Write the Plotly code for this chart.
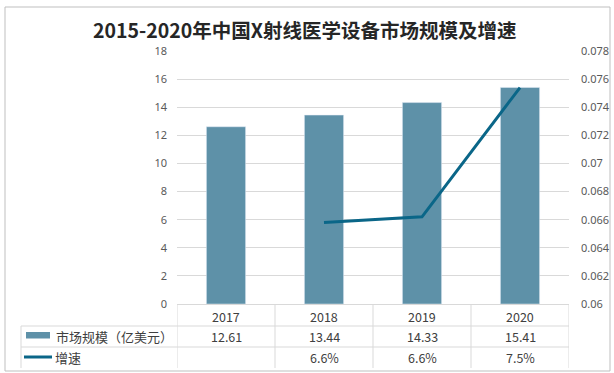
import plotly.graph_objects as go

# ---- data ----
years = ["2017", "2018", "2019", "2020"]
market_size = [12.61, 13.44, 14.33, 15.41]          # 亿美元
growth = [None, 0.0658, 0.0662, 0.0754]              # 增速
left_ticks = [0, 2, 4, 6, 8, 10, 12, 14, 16, 18]
right_ticks = [0.06, 0.062, 0.064, 0.066, 0.068, 0.07, 0.072, 0.074, 0.076, 0.078]
right_tick_text = ["0.06", "0.062", "0.064", "0.066", "0.068", "0.07", "0.072", "0.074", "0.076", "0.078"]
title_text = "2015-2020年中国X射线医学设备市场规模及增速"
bar_name = "市场规模（亿美元）"
line_name = "增速"

BAR_COLOR = "#5e91a8"
LINE_COLOR = "#0a6688"
GRID = "#d9d9d9"
TICK_COLOR = "#595959"
TEXT_COLOR = "#404040"
CJK = "Noto Sans CJK SC"

W, H = 614, 373
L, R, T, B = 177, 569, 51, 304   # plot area in pixels


def px(x):
    return (x - L) / (R - L)


def py(y):
    return (B - y) / (B - T)


fig = go.Figure()
fig.add_trace(go.Bar(x=years, y=market_size, marker_color=BAR_COLOR, width=0.4,
                     name=bar_name, showlegend=False))
fig.add_trace(go.Scatter(x=years, y=growth, yaxis="y2", mode="lines",
                         line=dict(color=LINE_COLOR, width=3), name=line_name,
                         showlegend=False))

shapes = []
annotations = []

# outer border
shapes.append(dict(type="rect", xref="paper", yref="paper",
                   x0=px(5), x1=px(610), y0=py(371), y1=py(7),
                   line=dict(color="#bfbfbf", width=1), layer="below"))

# table lines
row_lines = [326, 347]
for yy in row_lines:
    shapes.append(dict(type="line", xref="paper", yref="paper",
                       x0=px(21), x1=px(569), y0=py(yy), y1=py(yy),
                       line=dict(color=GRID, width=1)))
shapes.append(dict(type="line", xref="paper", yref="paper",
                   x0=px(21), x1=px(21), y0=py(326), y1=py(368),
                   line=dict(color=GRID, width=1)))
for i in range(len(years) + 1):
    xb = i - 0.5
    shapes.append(dict(type="line", xref="x", yref="paper",
                       x0=xb, x1=xb, y0=py(305), y1=py(368),
                       line=dict(color=GRID, width=1)))

# legend keys
shapes.append(dict(type="rect", xref="paper", yref="paper",
                   x0=px(26), x1=px(50), y0=py(338.5), y1=py(332),
                   fillcolor=BAR_COLOR, line=dict(width=0)))
shapes.append(dict(type="line", xref="paper", yref="paper",
                   x0=px(24), x1=px(52), y0=py(357), y1=py(357),
                   line=dict(color=LINE_COLOR, width=3)))

# table text
cell_font = dict(family=CJK, size=12.5, color=TEXT_COLOR)
for i, yr in enumerate(years):
    annotations.append(dict(x=i, xref="x", y=py(316), yref="paper", text=yr,
                            xanchor="center", yanchor="middle",
                            showarrow=False, font=cell_font))
    annotations.append(dict(x=i, xref="x", y=py(336.5), yref="paper",
                            text=f"{market_size[i]:.2f}", showarrow=False,
                            xanchor="center", yanchor="middle", font=cell_font))
    if growth[i] is not None:
        annotations.append(dict(x=i, xref="x", y=py(357.5), yref="paper",
                                text=f"{growth[i] * 100:.1f}%", showarrow=False,
                                xanchor="center", yanchor="middle", font=cell_font))

annotations.append(dict(x=px(54), xref="paper", y=py(336.5), yref="paper", text=bar_name,
                        xanchor="left", yanchor="middle", showarrow=False,
                        font=dict(family=CJK, size=13, color=TEXT_COLOR)))
annotations.append(dict(x=px(53), xref="paper", y=py(357.5), yref="paper", text=line_name,
                        xanchor="left", yanchor="middle", showarrow=False,
                        font=dict(family=CJK, size=13, color=TEXT_COLOR)))

# title
annotations.append(dict(x=px(304), xref="paper", y=py(29.5), yref="paper", text=f"<b>{title_text}</b>",
                        xanchor="center", yanchor="middle",
                        showarrow=False, font=dict(family=CJK, size=19.5, color="#262626")))

fig.update_layout(
    width=W, height=H,
    margin=dict(l=L, r=W - R, t=T, b=H - B, pad=0, autoexpand=False),
    plot_bgcolor="white", paper_bgcolor="white",
    showlegend=False,
    shapes=shapes, annotations=annotations,
    xaxis=dict(type="category", range=[-0.5, 3.5], showticklabels=False,
               showline=True, linecolor=GRID, linewidth=1, ticks="", showgrid=False,
               fixedrange=True, automargin=False),
    yaxis=dict(range=[0, 18], tickvals=left_ticks, showgrid=True, gridcolor=GRID,
               gridwidth=1, zeroline=False, ticks="", ticklabelstandoff=9,
               automargin=False,
               tickfont=dict(family="Noto Sans", size=11, color=TICK_COLOR)),
    yaxis2=dict(range=[0.06, 0.078], overlaying="y", side="right", tickvals=right_ticks,
                ticktext=right_tick_text, showgrid=False, zeroline=False, ticks="",
                ticklabelstandoff=11, automargin=False,
                tickfont=dict(family="Noto Sans", size=11, color=TICK_COLOR)),
)

fig.write_html("out.html", config={"displayModeBar": False},
               post_script="document.body.style.margin='0';document.body.style.padding='0';")
